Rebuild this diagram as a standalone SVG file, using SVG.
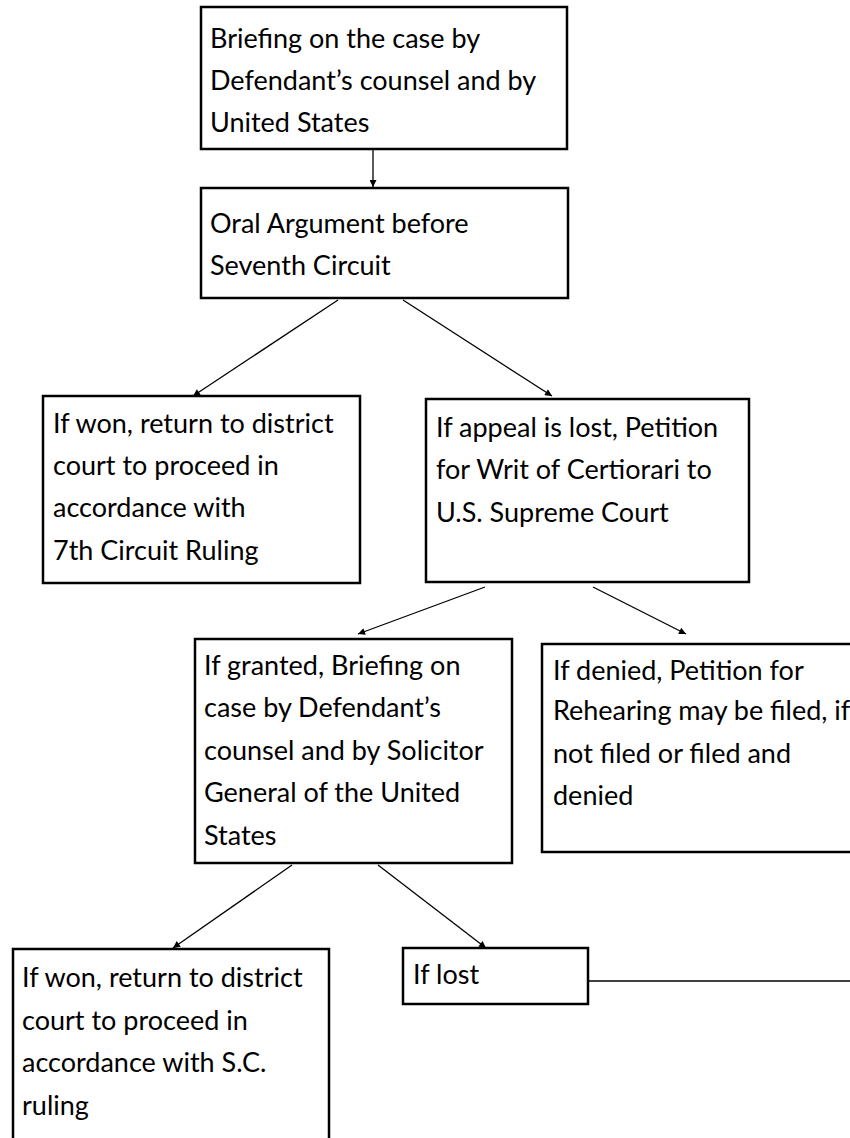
<svg xmlns="http://www.w3.org/2000/svg" width="850" height="1138" viewBox="0 0 850 1138">
<style>
.box{fill:#fff;stroke:#000;stroke-width:2.5}
.t{font-family:Lato,"Open Sans",sans-serif;font-size:27px;fill:#000}
.c{stroke:#000;stroke-width:1.3;fill:none}
</style>
<defs>
<marker id="ah" viewBox="0 0 10 10" refX="10" refY="5" markerWidth="8" markerHeight="7" markerUnits="userSpaceOnUse" orient="auto">
<path d="M0,0 L10,5 L0,10 z" fill="#000"/>
</marker>
</defs>
<rect width="850" height="1138" fill="#fff"/>
<g id="connectors">
<line class="c" x1="373" y1="150" x2="373" y2="187" marker-end="url(#ah)"/>
<line class="c" x1="338" y1="300" x2="193" y2="396" marker-end="url(#ah)"/>
<line class="c" x1="403" y1="300" x2="552" y2="396" marker-end="url(#ah)"/>
<line class="c" x1="485" y1="587" x2="358" y2="634" marker-end="url(#ah)"/>
<line class="c" x1="593" y1="587" x2="686" y2="634" marker-end="url(#ah)"/>
<line class="c" x1="292" y1="865" x2="173" y2="948" marker-end="url(#ah)"/>
<line class="c" x1="378" y1="865" x2="486" y2="948" marker-end="url(#ah)"/>
<line class="c" x1="589" y1="981" x2="850" y2="981"/>
</g>
<g id="n1">
<rect class="box" x="201" y="7" width="366" height="142"/>
<text class="t" x="210" y="48">Briefing on the case by</text>
<text class="t" x="210" y="90">Defendant’s counsel and by</text>
<text class="t" x="210" y="132">United States</text>
</g>
<g id="n2">
<rect class="box" x="201" y="188" width="367" height="110"/>
<text class="t" x="210" y="233">Oral Argument before</text>
<text class="t" x="210" y="275">Seventh Circuit</text>
</g>
<g id="n3">
<rect class="box" x="43" y="396" width="317" height="187"/>
<text class="t" x="53" y="433">If won, return to district</text>
<text class="t" x="53" y="475">court to proceed in</text>
<text class="t" x="53" y="517">accordance with</text>
<text class="t" x="53" y="560">7th Circuit Ruling</text>
</g>
<g id="n4">
<rect class="box" x="426" y="399" width="323" height="183"/>
<text class="t" x="436" y="437">If appeal is lost, Petition</text>
<text class="t" x="436" y="479">for Writ of Certiorari to</text>
<text class="t" x="436" y="522">U.S. Supreme Court</text>
</g>
<g id="n5">
<rect class="box" x="195" y="639" width="317" height="224"/>
<text class="t" x="204" y="675">If granted, Briefing on</text>
<text class="t" x="204" y="717">case by Defendant’s</text>
<text class="t" x="204" y="760">counsel and by Solicitor</text>
<text class="t" x="204" y="802">General of the United</text>
<text class="t" x="204" y="845">States</text>
</g>
<g id="n6">
<rect class="box" x="542" y="644" width="330" height="208"/>
<text class="t" x="553" y="680">If denied, Petition for</text>
<text class="t" x="553" y="720">Rehearing may be filed, if</text>
<text class="t" x="553" y="763">not filed or filed and</text>
<text class="t" x="553" y="805">denied</text>
</g>
<g id="n7">
<rect class="box" x="13" y="949" width="316" height="220"/>
<text class="t" x="22" y="987">If won, return to district</text>
<text class="t" x="22" y="1030">court to proceed in</text>
<text class="t" x="22" y="1072">accordance with S.C.</text>
<text class="t" x="22" y="1115">ruling</text>
</g>
<g id="n8">
<rect class="box" x="403" y="948" width="185" height="56"/>
<text class="t" x="413" y="984">If lost</text>
</g>
</svg>
